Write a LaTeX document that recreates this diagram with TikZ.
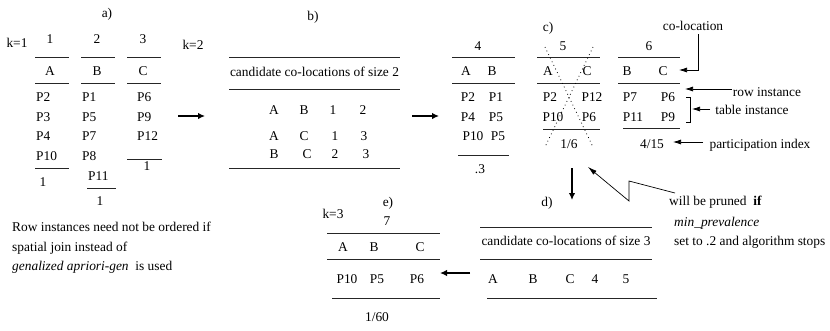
\documentclass[tikz,border=0pt]{standalone}
\usepackage{fontspec}
\setmainfont{Liberation Serif}
\usetikzlibrary{arrows.meta}
\begin{document}
\begin{tikzpicture}[x=1pt,y=-1pt,
  tx/.style={inner sep=0pt,anchor=center,font=\fontsize{13.4}{15}\selectfont,text height=9pt,text depth=2.5pt},
  tw/.style={tx,anchor=west},
  rule/.style={line width=0.9pt,black!85},
  bigarrow/.style={line width=1.6pt,-{Latex[length=7pt,width=6.5pt]}},
  thinarrow/.style={line width=0.7pt,-{Latex[length=8pt,width=5pt]}},
  xline/.style={line width=0.8pt,dash pattern=on 0.8pt off 3.2pt}]
\useasboundingbox (0,0) rectangle (830,330);
% ---------- a) ----------
\node[tx] (la) at (107,14) {a)};
\node[tx] (k1) at (17,44) {k=1};
\node[tx] (h1) at (50,40) {1};
\node[tx] (h2) at (97,40) {2};
\node[tx] (h3) at (143,40) {3};
\foreach \xa/\xb in {35/69,81/115,127/161}{
  \draw[rule] (\xa,57) -- (\xb,57);
  \draw[rule] (\xa,83) -- (\xb,83);}
\node[tx] (aA) at (50,72) {A};
\node[tx] (aB) at (97,72) {B};
\node[tx] (aC) at (143,72) {C};
\node[tw] (a11) at (36,98) {P2};
\node[tw] (a12) at (36,118) {P3};
\node[tw] (a13) at (36,137) {P4};
\node[tw] (a14) at (36,157) {P10};
\draw[rule] (35,168) -- (69,168);
\node[tx] (a1p) at (43,183) {1};
\node[tw] (a21) at (82,98) {P1};
\node[tw] (a22) at (82,118) {P5};
\node[tw] (a23) at (82,137) {P7};
\node[tw] (a24) at (82,157) {P8};
\node[tw] (a25) at (88,177) {P11};
\draw[rule] (87,188) -- (116,188);
\node[tx] (a2p) at (100,202) {1};
\node[tw] (a31) at (137,98) {P6};
\node[tw] (a32) at (137,118) {P9};
\node[tw] (a33) at (137,137) {P12};
\draw[rule] (127,159) -- (162,159);
\node[tx] (a3p) at (147,167) {1};
% note
\node[tw] (n1) at (12,228) {Row instances need not be ordered if};
\node[tw] (n2) at (12,248) {spatial join instead of};
\node[tw] (n3) at (12,267) {\textit{genalized apriori-gen}\ \ is used};
% ---------- b) ----------
\node[tx] (lb) at (313,17) {b)};
\node[tx] (k2) at (193,46) {k=2};
\draw[rule] (229,57) -- (400,57);
\node[tx] (bt) at (314.5,73) {candidate co-locations of size 2};
\draw[rule] (229,89) -- (400,89);
\node[tx] (b11) at (274,111) {A};
\node[tx] (b12) at (304,111) {B};
\node[tx] (b13) at (333,111) {1};
\node[tx] (b14) at (363,111) {2};
\node[tx] (b21) at (274,137) {A};
\node[tx] (b22) at (304,137) {C};
\node[tx] (b23) at (335,137) {1};
\node[tx] (b24) at (364,137) {3};
\node[tx] (b31) at (274,155) {B};
\node[tx] (b32) at (307,155) {C};
\node[tx] (b33) at (335,155) {2};
\node[tx] (b34) at (366,155) {3};
\draw[rule] (229,168) -- (400,168);
% arrows a->b, b->c
\coordinate (ab1) at (178,116); \coordinate (ab2) at (205,116);
\draw[bigarrow] (ab1) -- (ab2);
\coordinate (bc1) at (412,116); \coordinate (bc2) at (439,116);
\draw[bigarrow] (bc1) -- (bc2);
% ---------- c) table 4 ----------
\node[tx] (t4) at (478,47) {4};
\draw[rule] (452,57) -- (515,57);
\node[tx] (c4A) at (466,72) {A};
\node[tx] (c4B) at (492,72) {B};
\draw[rule] (452,83) -- (515,83);
\node[tx] (c411) at (468,98) {P2};
\node[tx] (c412) at (496,98) {P1};
\node[tx] (c421) at (468,118) {P4};
\node[tx] (c422) at (496,118) {P5};
\node[tx] (c431) at (473,137) {P10};
\node[tx] (c432) at (498,137) {P5};
\draw[rule] (458,155) -- (509,155);
\node[tx] (c4p) at (480,170) {.3};
% table 5
\node[tx] (lc) at (548,28) {c)};
\node[tx] (t5) at (563,47) {5};
\draw[rule] (537,57) -- (600,57);
\node[tx] (c5A) at (548,72) {A};
\node[tx] (c5C) at (587,72) {C};
\draw[rule] (537,83) -- (600,83);
\node[tx] (c511) at (550,98) {P2};
\node[tx] (c512) at (592,98) {P12};
\node[tx] (c521) at (553,118) {P10};
\node[tx] (c522) at (589,118) {P6};
\draw[rule] (543,129) -- (600,129);
\node[tx] (c5p) at (569,145) {1/6};
\coordinate (x1) at (545,47); \coordinate (x2) at (593,147);
\coordinate (x3) at (593,47); \coordinate (x4) at (545,147);
\draw[xline] (x1) -- (x2);
\draw[xline] (x3) -- (x4);
% table 6
\node[tx] (t6) at (649,47) {6};
\draw[rule] (618,57) -- (680,57);
\node[tx] (c6B) at (627,72) {B};
\node[tx] (c6C) at (663,72) {C};
\draw[rule] (618,83) -- (680,83);
\node[tx] (c611) at (630,98) {P7};
\node[tx] (c612) at (668,98) {P6};
\node[tx] (c621) at (633,118) {P11};
\node[tx] (c622) at (668,118) {P9};
\draw[rule] (623,128) -- (680,128);
\node[tx] (c6p) at (652,145) {4/15};
% annotations
\node[tx] (colo) at (693,27) {co-location};
\coordinate (co1) at (698,34); \coordinate (co2) at (698,70); \coordinate (co3) at (679,70);
\draw[thinarrow] (co1) -- (co2) -- (co3);
\node[tx] (rowi) at (767,93) {row instance};
\coordinate (ri1) at (732,89); \coordinate (ri2) at (685,89);
\draw[thinarrow] (ri1) -- (ri2);
\coordinate (br1) at (686,97); \coordinate (br2) at (690,97);
\coordinate (br3) at (690,122); \coordinate (br4) at (686,122);
\draw[line width=0.7pt] (br1) -- (br2) -- (br3) -- (br4);
\node[tx] (tabi) at (752,111) {table instance};
\coordinate (ti1) at (710,109); \coordinate (ti2) at (692,109);
\draw[thinarrow] (ti1) -- (ti2);
\node[tx] (pidx) at (760,145) {participation index};
\coordinate (pi1) at (703,142); \coordinate (pi2) at (673,142);
\draw[thinarrow] (pi1) -- (pi2);
% arrow c -> d
\coordinate (cd1) at (572,168); \coordinate (cd2) at (572,200);
\draw[bigarrow] (cd1) -- (cd2);
% prune note
\node[tw] (pr1) at (669,202) {will be pruned\ \ \textbf{if}};
\node[tw] (pr2) at (674,223) {\textit{min\_prevalence}};
\node[tw] (pr3) at (674,242) {set to .2 and algorithm stops};
\coordinate (z1) at (675,193); \coordinate (z2) at (629,181);
\coordinate (z3) at (629,201); \coordinate (z4) at (588,167);
\draw[line width=0.7pt,-{Latex[length=9pt,width=5pt]}] (z1) -- (z2) -- (z3) -- (z4);
% ---------- d) ----------
\node[tx] (ld) at (547,203) {d)};
\draw[rule] (480,227) -- (652,227);
\node[tx] (dt) at (566,242) {candidate co-locations of size 3};
\draw[rule] (480,259) -- (652,259);
\node[tx] (d1) at (493,280) {A};
\node[tx] (d2) at (533,280) {B};
\node[tx] (d3) at (570,280) {C};
\node[tx] (d4) at (595,280) {4};
\node[tx] (d5) at (626,280) {5};
\draw[rule] (487,298) -- (657,298);
% arrow d -> e
\coordinate (de1) at (470,273); \coordinate (de2) at (440,273);
\draw[bigarrow] (de1) -- (de2);
% ---------- e) ----------
\node[tx] (le) at (388,203) {e)};
\node[tx] (k3) at (333,215) {k=3};
\node[tx] (t7) at (387,222) {7};
\draw[rule] (327,233) -- (440,233);
\node[tx] (eA) at (343,248) {A};
\node[tx] (eB) at (374,248) {B};
\node[tx] (eC) at (420,248) {C};
\draw[rule] (327,259) -- (440,259);
\node[tx] (e1) at (347,280) {P10};
\node[tx] (e2) at (377,280) {P5};
\node[tx] (e3) at (417,280) {P6};
\draw[rule] (332,298) -- (440,298);
\node[tx] (ep) at (377,318) {1/60};
\end{tikzpicture}
\end{document}
